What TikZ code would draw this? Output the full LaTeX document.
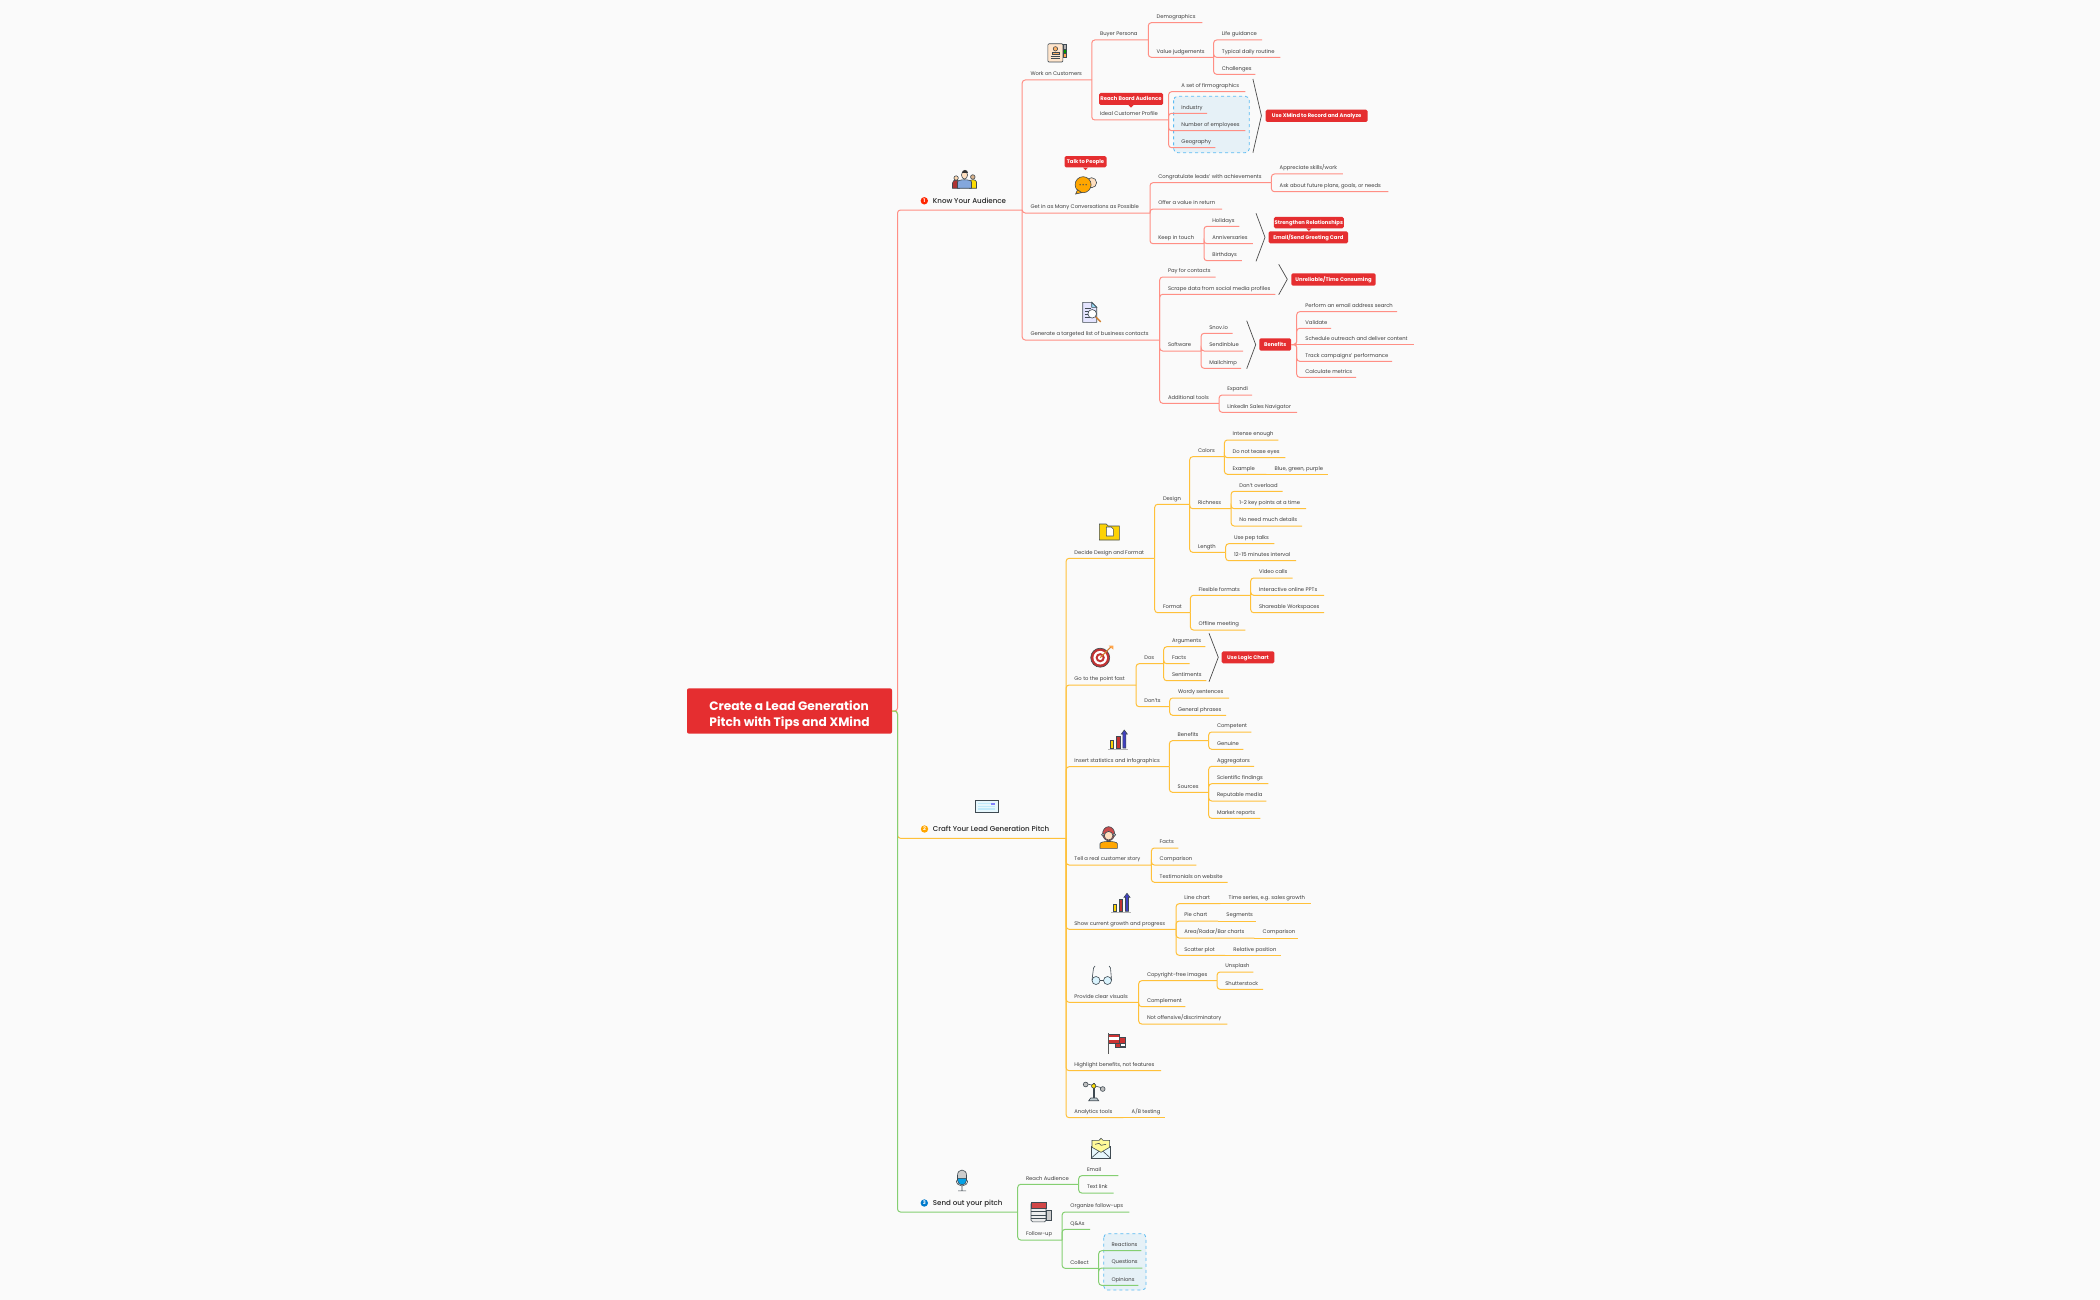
\documentclass[tikz,border=0pt]{standalone}
\usepackage{fontspec}
\setmainfont{Poppins}
\newfontface\medf{Poppins Medium}
\definecolor{bgc}{HTML}{FAFAFA}
\definecolor{rl}{HTML}{FF8F85}
\definecolor{ol}{HTML}{FFC13A}
\definecolor{gl}{HTML}{85CF72}
\definecolor{tagred}{HTML}{E52E30}
\definecolor{txt}{HTML}{3C3C3C}
\definecolor{icl}{HTML}{3F4A52}
\definecolor{bbox}{HTML}{E6F1F7}
\definecolor{bdash}{HTML}{5BBBF2}
\tikzset{
  tpc/.style={anchor=south west, inner sep=0pt, minimum height=10.4pt, text height=4pt, text depth=1.3pt, text=txt, font=\fontsize{5.25}{6.5}\selectfont},
  tpm/.style={anchor=south west, inner sep=0pt, minimum height=17pt, text height=5pt, text depth=1.5pt, text=black!85, font=\fontsize{7.1}{8}\medf},
  link/.style={line width=1pt, rounded corners=3pt},
  rlink/.style={link, draw=rl},
  olink/.style={link, draw=ol},
  glink/.style={link, draw=gl},
  tagbox/.style={fill=tagred, rounded corners=1.5pt, inner sep=0pt, text height=3.7pt, text depth=0pt, text=white, font=\fontsize{5.25}{6}\selectfont\bfseries},
  bkt/.style={draw=black!70, line width=.7pt, line join=round},
  zone/.style={fill=bbox, draw=bdash, dashed, line width=.8pt, rounded corners=4pt},
  numdot/.style={circle, inner sep=0pt, minimum size=7.4pt, text=white, font=\fontsize{5}{5}\selectfont\bfseries},
  ico/.style={line width=.6pt, draw=icl}
}
% name, start of underline, end of underline, y of underline, text
\newcommand{\tp}[5]{\pgfmathsetmacro{\tpw}{#3-#2}\node[tpc] (#1) at (#2,#4) {\makebox[\tpw pt][l]{\hspace{8.5pt}#5}};}
\newcommand{\tpz}[5]{\pgfmathsetmacro{\tpw}{#3-#2}\node[tpc] (#1) at (#2,#4) {\makebox[\tpw pt][l]{\hspace{13pt}#5}};}
\newcommand{\tpb}[5]{\pgfmathsetmacro{\tpw}{#3-#2}\node[tpm] (#1) at (#2,#4) {\makebox[\tpw pt][l]{\hspace{35.2pt}#5}};}
\newcommand{\ptr}[1]{\fill[tagred] ([xshift=-2.5pt]#1.south) -- ([xshift=2.5pt]#1.south) -- ([yshift=-2.5pt]#1.south) -- cycle;}
\begin{document}
\begin{tikzpicture}[x=1pt, y=-1pt]
   \fill[bgc] (0,0) rectangle (2100,1300);
   % dashed zones
   \draw[zone] (1173.6,96.3) rectangle (1249.3,152.7);
   \draw[zone] (1103.7,1233.7) rectangle (1146,1290);

   \node[fill=tagred, rounded corners=2pt, minimum width=205pt, minimum height=45.4pt, inner sep=0pt, align=left, text=white, font=\fontsize{12.2}{16.6}\selectfont\bfseries] (root) at (789.5,711) {\rule{0pt}{18pt}Create a Lead Generation\\Pitch with Tips and XMind};

   % first branch
   \tpb{know}{897.5}{1021.8}{210}{Know Your Audience}
   \draw[rlink] (root.east) -| (know.south west) -- (know.south east);
   \node[numdot, fill=red!70!orange] (n1) at (924.3,200.8) {1};
   \tp{work}{1021.8}{1091.4}{80}{Work on Customers}  \draw[rlink] (know.south east) |- (work.south east);
   \tp{buyer}{1091.4}{1147.9}{40}{Buyer Persona}  \draw[rlink] (work.south east) |- (buyer.south east);
   \tp{demo}{1147.9}{1202}{22.7}{Demographics}  \draw[rlink] (buyer.south east) |- (demo.south east);
   \tp{value}{1147.9}{1213.2}{57.3}{Value judgements}  \draw[rlink] (buyer.south east) |- (value.south east);
   \tp{life}{1213.2}{1261.8}{40}{Life guidance}  \draw[rlink] (value.south east) |- (life.south east);
   \tp{daily}{1213.2}{1280}{57.3}{Typical daily routine}  \draw[rlink] (value.south east) |- (daily.south east);
   \tp{chal}{1213.2}{1255}{74.3}{Challenges}  \draw[rlink] (value.south east) |- (chal.south east);
   \tp{ideal}{1091.4}{1168.2}{120}{Ideal Customer Profile}  \draw[rlink] (work.south east) |- (ideal.south east);
   \tpz{firmo}{1168.2}{1245}{91.7}{A set of firmographics}  \draw[rlink] (ideal.south east) |- (firmo.south east);
   \tpz{indus}{1168.2}{1206.8}{113.3}{Industry}  \draw[rlink] (ideal.south east) |- (indus.south east);
   \tpz{emplo}{1168.2}{1245}{130.7}{Number of employees}  \draw[rlink] (ideal.south east) |- (emplo.south east);
   \tpz{geog}{1168.2}{1215}{147.7}{Geography}  \draw[rlink] (ideal.south east) |- (geog.south east);
   \node[tagbox, minimum width=64pt, minimum height=12pt] (reach) at (1131,99) {Reach Board Audience};
   \ptr{reach}
   \coordinate (b1a) at (1252.9,79);  \coordinate (b1b) at (1261.4,115.7);  \coordinate (b1c) at (1252.9,152.7);
   \draw[bkt] (b1a) -- (b1b) -- (b1c);
   \node[tagbox, minimum width=102pt, minimum height=12.3pt] (xmind) at (1316.6,115.8) {Use XMind to Record and Analyze};

   \tp{conv}{1021.8}{1149.6}{213}{Get in as Many Conversations as Possible}  \draw[rlink] (know.south east) |- (conv.south east);
   \node[tagbox, minimum width=42pt, minimum height=11.3pt] (talk) at (1085.5,161.7) {Talk to People};
   \ptr{talk}
   \tp{congr}{1149.6}{1271}{182.7}{Congratulate leads' with achievements}  \draw[rlink] (conv.south east) |- (congr.south east);
   \tp{appr}{1271}{1342.5}{174}{Appreciate skills/work}  \draw[rlink] (congr.south east) |- (appr.south east);
   \tp{ask}{1271}{1387.9}{191.7}{Ask about future plans, goals, or needs}  \draw[rlink] (congr.south east) |- (ask.south east);
   \tp{offer}{1149.6}{1221.8}{209}{Offer a value in return}  \draw[rlink] (conv.south east) |- (offer.south east);
   \tp{keep}{1149.6}{1203.6}{243.7}{Keep in touch}  \draw[rlink] (conv.south east) |- (keep.south east);
   \tp{holi}{1203.6}{1239}{226.3}{Holidays}  \draw[rlink] (keep.south east) |- (holi.south east);
   \tp{anni}{1203.6}{1252.5}{243.7}{Anniversaries}  \draw[rlink] (keep.south east) |- (anni.south east);
   \tp{birth}{1203.6}{1241.4}{260.7}{Birthdays}  \draw[rlink] (keep.south east) |- (birth.south east);
   \coordinate (b2a) at (1256,213.3);  \coordinate (b2b) at (1265,237.3);  \coordinate (b2c) at (1256,261.3);
   \draw[bkt] (b2a) -- (b2b) -- (b2c);
   \node[tagbox, minimum width=70pt, minimum height=11.3pt] (stren) at (1308.8,222.6) {Strengthen Relationships};
   \ptr{stren}
   \node[tagbox, minimum width=79.4pt, minimum height=12pt] (greet) at (1308.3,237.3) {Email/Send Greeting Card};

   \tp{gen}{1021.8}{1159.3}{340}{Generate a targeted list of business contacts}  \draw[rlink] (know.south east) |- (gen.south east);
   \tp{pay}{1159.3}{1215.3}{277}{Pay for contacts}  \draw[rlink] (gen.south east) |- (pay.south east);
   \tp{scrape}{1159.3}{1275}{294.3}{Scrape data from social media profiles}  \draw[rlink] (gen.south east) |- (scrape.south east);
   \coordinate (b3a) at (1278.7,264.3);  \coordinate (b3b) at (1287.3,279.3);  \coordinate (b3c) at (1278.7,294.7);
   \draw[bkt] (b3a) -- (b3b) -- (b3c);
   \node[tagbox, minimum width=84.4pt, minimum height=12.4pt] (unrel) at (1333.5,279.5) {Unreliable/Time Consuming};
   \tp{soft}{1159.3}{1200.7}{351}{Software}  \draw[rlink] (gen.south east) |- (soft.south east);
   \tp{snov}{1200.7}{1232.3}{333.3}{Snov.io}  \draw[rlink] (soft.south east) |- (snov.south east);
   \tp{sendin}{1200.7}{1242.7}{351}{Sendinblue}  \draw[rlink] (soft.south east) |- (sendin.south east);
   \tp{mail}{1200.7}{1240.7}{368.3}{Mailchimp}  \draw[rlink] (soft.south east) |- (mail.south east);
   \coordinate (b4a) at (1246.7,320.7);  \coordinate (b4b) at (1255.7,344.7);  \coordinate (b4c) at (1246.7,368.7);
   \draw[bkt] (b4a) -- (b4b) -- (b4c);
   \node[tagbox, minimum width=31.7pt, minimum height=12.4pt] (benef) at (1275.2,344.5) {Benefits};
   \tp{perf}{1296.7}{1396.7}{311.7}{Perform an email address search}  \draw[rlink] (benef.east) -| (perf.south west) -- (perf.south east);
   \tp{valid}{1296.7}{1330.7}{328.3}{Validate}  \draw[rlink] (benef.east) -| (valid.south west) -- (valid.south east);
   \tp{sched}{1296.7}{1413.3}{344.5}{Schedule outreach and deliver content}  \draw[rlink] (benef.east) -- (sched.south east);
   \tp{track}{1296.7}{1391.7}{361.3}{Track campaigns' performance}  \draw[rlink] (benef.east) -| (track.south west) -- (track.south east);
   \tp{calc}{1296.7}{1355.7}{377.3}{Calculate metrics}  \draw[rlink] (benef.east) -| (calc.south west) -- (calc.south east);
   \tp{addi}{1159.3}{1218.7}{403.3}{Additional tools}  \draw[rlink] (gen.south east) |- (addi.south east);
   \tp{expa}{1218.7}{1251.7}{395}{Expandi}  \draw[rlink] (addi.south east) |- (expa.south east);
   \tp{linke}{1218.7}{1296.7}{412.3}{LinkedIn Sales Navigator}  \draw[rlink] (addi.south east) |- (linke.south east);

   % second branch
   \tpb{craft}{897.5}{1065.7}{838.3}{Craft Your Lead Generation Pitch}
   \draw[olink] (root.east) -| (craft.south west) -- (craft.south east);
   \node[numdot, fill=orange!70!yellow] (n2) at (924.5,829) {2};
   \tp{decide}{1065.7}{1154.3}{558.3}{Decide Design and Format}  \draw[olink] (craft.south east) |- (decide.south east);
   \tp{design}{1154.3}{1189.3}{504.3}{Design}  \draw[olink] (decide.south east) |- (design.south east);
   \tp{colors}{1189.3}{1224}{456.7}{Colors}  \draw[olink] (design.south east) |- (colors.south east);
   \tp{inten}{1224}{1278}{440}{Intense enough}  \draw[olink] (colors.south east) |- (inten.south east);
   \tp{tease}{1224}{1285}{457.7}{Do not tease eyes}  \draw[olink] (colors.south east) |- (tease.south east);
   \tp{examp}{1224}{1266}{474.3}{Example}  \draw[olink] (colors.south east) |- (examp.south east);
   \tp{bgp}{1266}{1327.7}{474.3}{Blue, green, purple}  \draw[olink] (examp.south east) -- (bgp.south east);
   \tp{rich}{1189.3}{1230.7}{508.7}{Richness}  \draw[olink] (design.south east) |- (rich.south east);
   \tp{dont}{1230.7}{1282.3}{491.3}{Don't overload}  \draw[olink] (rich.south east) |- (dont.south east);
   \tp{keyp}{1230.7}{1305.7}{508.7}{1-2 key points at a time}  \draw[olink] (rich.south east) |- (keyp.south east);
   \tp{nonee}{1230.7}{1301.7}{526}{No need much details}  \draw[olink] (rich.south east) |- (nonee.south east);
   \tp{leng}{1189.3}{1225.3}{552.3}{Length}  \draw[olink] (design.south east) |- (leng.south east);
   \tp{pep}{1225.3}{1274}{543.7}{Use pep talks}  \draw[olink] (leng.south east) |- (pep.south east);
   \tp{twelve}{1225.3}{1295.7}{560.7}{12-15 minutes interval}  \draw[olink] (leng.south east) |- (twelve.south east);
   \tp{format}{1154.3}{1190}{612.7}{Format}  \draw[olink] (decide.south east) |- (format.south east);
   \tp{flex}{1190}{1250.3}{595.3}{Flexible formats}  \draw[olink] (format.south east) |- (flex.south east);
   \tp{video}{1250.3}{1292.3}{578}{Video calls}  \draw[olink] (flex.south east) |- (video.south east);
   \tp{inter}{1250.3}{1323.7}{595.3}{Interactive online PPTs}  \draw[olink] (flex.south east) |- (inter.south east);
   \tp{share}{1250.3}{1323.7}{612.7}{Shareable Workspaces}  \draw[olink] (flex.south east) |- (share.south east);
   \tp{offl}{1190}{1245}{630}{Offline meeting}  \draw[olink] (format.south east) |- (offl.south east);

   \tp{goto}{1065.7}{1135.7}{685}{Go to the point fast}  \draw[olink] (craft.south east) |- (goto.south east);
   \tp{dos}{1135.7}{1163.3}{663.7}{Dos}  \draw[olink] (goto.south east) |- (dos.south east);
   \tp{argu}{1163.3}{1205}{646.7}{Arguments}  \draw[olink] (dos.south east) |- (argu.south east);
   \tp{facta}{1163.3}{1189.3}{663.7}{Facts}  \draw[olink] (dos.south east) |- (facta.south east);
   \tp{senti}{1163.3}{1206}{680.7}{Sentiments}  \draw[olink] (dos.south east) |- (senti.south east);
   \coordinate (b5a) at (1209,633.3);  \coordinate (b5b) at (1218.3,657.3);  \coordinate (b5c) at (1209,681.7);
   \draw[bkt] (b5a) -- (b5b) -- (b5c);
   \node[tagbox, minimum width=52.6pt, minimum height=12pt] (logic) at (1248,657.3) {Use Logic Chart};
   \tp{donts}{1135.7}{1169.3}{706.7}{Don'ts}  \draw[olink] (goto.south east) |- (donts.south east);
   \tp{wordy}{1169.3}{1228.7}{698}{Wordy sentences}  \draw[olink] (donts.south east) |- (wordy.south east);
   \tp{gene}{1169.3}{1225.7}{715.3}{General phrases}  \draw[olink] (donts.south east) |- (gene.south east);

   \tp{stat}{1065.7}{1169}{766.7}{Insert statistics and infographics}  \draw[olink] (craft.south east) |- (stat.south east);
   \tp{bene}{1169}{1208.3}{740.7}{Benefits}  \draw[olink] (stat.south east) |- (bene.south east);
   \tp{compe}{1208.3}{1251}{732}{Competent}  \draw[olink] (bene.south east) |- (compe.south east);
   \tp{genu}{1208.3}{1243}{749.3}{Genuine}  \draw[olink] (bene.south east) |- (genu.south east);
   \tp{sour}{1169}{1208.3}{792.3}{Sources}  \draw[olink] (stat.south east) |- (sour.south east);
   \tp{aggr}{1208.3}{1253.7}{766.3}{Aggregators}  \draw[olink] (sour.south east) |- (aggr.south east);
   \tp{scie}{1208.3}{1268}{783.7}{Scientific findings}  \draw[olink] (sour.south east) |- (scie.south east);
   \tp{repu}{1208.3}{1266}{801}{Reputable media}  \draw[olink] (sour.south east) |- (repu.south east);
   \tp{mark}{1208.3}{1260}{818.3}{Market reports}  \draw[olink] (sour.south east) |- (mark.south east);

   \tp{tell}{1065.7}{1151}{865}{Tell a real customer story}  \draw[olink] (craft.south east) |- (tell.south east);
   \tp{factb}{1151}{1178}{848}{Facts}  \draw[olink] (tell.south east) |- (factb.south east);
   \tp{compa}{1151}{1196}{865}{Comparison}  \draw[olink] (tell.south east) |- (compa.south east);
   \tp{testi}{1151}{1227.3}{882.3}{Testimonials on website}  \draw[olink] (tell.south east) |- (testi.south east);

   \tp{show}{1065.7}{1175.7}{929.3}{Show current growth and progress}  \draw[olink] (craft.south east) |- (show.south east);
   \tp{linec}{1175.7}{1220}{903.7}{Line chart}  \draw[olink] (show.south east) |- (linec.south east);
   \tp{times}{1220}{1310.7}{903.7}{Time series, e.g. sales growth}  \draw[olink] (linec.south east) -- (times.south east);
   \tp{piec}{1175.7}{1217.7}{921}{Pie chart}  \draw[olink] (show.south east) |- (piec.south east);
   \tp{segm}{1217.7}{1255.7}{921}{Segments}  \draw[olink] (piec.south east) -- (segm.south east);
   \tp{area}{1175.7}{1254}{938}{Area/Radar/Bar charts}  \draw[olink] (show.south east) |- (area.south east);
   \tp{compb}{1254}{1298}{938}{Comparison}  \draw[olink] (area.south east) -- (compb.south east);
   \tp{scat}{1175.7}{1224.7}{955.3}{Scatter plot}  \draw[olink] (show.south east) |- (scat.south east);
   \tp{relp}{1224.7}{1280.7}{955.3}{Relative position}  \draw[olink] (scat.south east) -- (relp.south east);

   \tp{prov}{1065.7}{1138.3}{1002.3}{Provide clear visuals}  \draw[olink] (craft.south east) |- (prov.south east);
   \tp{copy}{1138.3}{1216.7}{980.7}{Copyright-free images}  \draw[olink] (prov.south east) |- (copy.south east);
   \tp{unsp}{1216.7}{1253}{972}{Unsplash}  \draw[olink] (copy.south east) |- (unsp.south east);
   \tp{shut}{1216.7}{1262.7}{989.3}{Shutterstock}  \draw[olink] (copy.south east) |- (shut.south east);
   \tp{comple}{1138.3}{1185}{1006.7}{Complement}  \draw[olink] (prov.south east) |- (comple.south east);
   \tp{notof}{1138.3}{1227}{1024}{Not offensive/discriminatory}  \draw[olink] (prov.south east) |- (notof.south east);

   \tp{high}{1065.7}{1160.7}{1070.7}{Highlight benefits, not features}  \draw[olink] (craft.south east) |- (high.south east);
   \tp{anal}{1065.7}{1123}{1117.7}{Analytics tools}  \draw[olink] (craft.south east) |- (anal.south east);
   \tp{abte}{1123}{1165}{1117.7}{A/B testing}  \draw[olink] (anal.south east) -- (abte.south east);

   % third branch
   \tpb{send}{897.5}{1017.3}{1212}{Send out your pitch}
   \draw[glink] (root.east) -| (send.south west) -- (send.south east);
   \node[numdot, fill=blue!40!cyan!80!black] (n3) at (924.3,1203) {3};
   \tp{raud}{1017.3}{1078.3}{1184.3}{Reach Audience}  \draw[glink] (send.south east) |- (raud.south east);
   \tp{email}{1078.3}{1118}{1175.7}{Email}  \draw[glink] (raud.south east) |- (email.south east);
   \tp{texl}{1078.3}{1113.3}{1193}{Text link}  \draw[glink] (raud.south east) |- (texl.south east);
   \tp{foll}{1017.3}{1061.7}{1240}{Follow-up}  \draw[glink] (send.south east) |- (foll.south east);
   \tp{orga}{1061.7}{1129}{1212}{Organize follow-ups}  \draw[glink] (foll.south east) |- (orga.south east);
   \tp{qas}{1061.7}{1089.7}{1229.3}{Q\&As}  \draw[glink] (foll.south east) |- (qas.south east);
   \tp{coll}{1061.7}{1098.3}{1268.3}{Collect}  \draw[glink] (foll.south east) |- (coll.south east);
   \tpz{reac}{1098.3}{1141}{1250.7}{Reactions}  \draw[glink] (coll.south east) |- (reac.south east);
   \tpz{ques}{1098.3}{1142}{1268}{Questions}  \draw[glink] (coll.south east) |- (ques.south east);
   \tpz{opin}{1098.3}{1138}{1285.3}{Opinions}  \draw[glink] (coll.south east) |- (opin.south east);

   % icons
   \begin{scope}[shift={(952.5,170)}]   % audience
   \filldraw[ico, fill=red!60!black!80] (0,18.3) -- (0,13) .. controls (0,9) and (7,9) .. (7,13) -- (7,18.3) -- cycle;
   \filldraw[ico, fill=orange!30] (3.6,8) circle (2.2);
   \filldraw[ico, fill=yellow!80!orange] (17,18.3) -- (17,12) .. controls (17,9) and (24,9) .. (24,12) -- (24,18.3) -- cycle;
   \filldraw[ico, fill=brown!60] (20.3,7) circle (2.3);
   \filldraw[ico, fill=cyan!50!blue!50] (5,18.3) -- (5,12) .. controls (5,9) and (19,9) .. (19,12) -- (19,18.3) -- cycle;
   \filldraw[ico, fill=orange!25] (12,5) ellipse (3 and 4);
   \fill[black!80] (9,3.5) .. controls (9,-1) and (15,-1) .. (15,3.5) -- cycle;
   \end{scope}
   \begin{scope}[shift={(1047.9,43.3)}]   % profile card
   \filldraw[ico, fill=orange!20, rounded corners=1pt] (0,0.5) rectangle (15,18.7);
   \filldraw[ico, fill=orange!60] (4,9) rectangle (11,11.5);
   \filldraw[ico, fill=orange!60] (7.5,5.5) circle (2.2);
   \draw[ico] (3,13.5) -- (12,13.5) (3,15.5) -- (12,15.5);
   \filldraw[ico, fill=gray!60] (15,1) rectangle (18.6,6);
   \filldraw[ico, fill=green!60!black] (15,6) rectangle (18.6,10);
   \filldraw[ico, fill=orange!70] (15,10) rectangle (18.6,14);
   \end{scope}
   \begin{scope}[shift={(1074.6,176.7)}]   % chat bubbles
   \filldraw[ico, fill=orange!25] (17,6) circle (5);
   \filldraw[ico, fill=orange!70!yellow] (8.5,8) circle (8);
   \filldraw[ico, fill=orange!70!yellow] (3,13) -- (1,17.3) -- (7,16) -- cycle;
   \fill[icl] (5.5,8) circle (.7) (8.5,8) circle (.7) (11.5,8) circle (.7);
   \end{scope}
   \begin{scope}[shift={(1082.7,302.3)}]   % list with lens
   \filldraw[ico, fill=blue!10] (0,0) -- (9,0) -- (14,5) -- (14,20) -- (0,20) -- cycle;
   \filldraw[ico, fill=cyan!40] (9,0) -- (14,5) -- (9,5) -- cycle;
   \draw[ico] (2,6) -- (8,6) (2,9) -- (6,9) (2,12) -- (6,12) (2,15) -- (7,15);
   \draw[line width=1.4pt, draw=brown!70!orange] (13,14.5) -- (18,19.5);
   \filldraw[ico, fill=white] (9.5,11.5) circle (4.3);
   \end{scope}
   \begin{scope}[shift={(1099.3,522)}]   % folder
   \filldraw[ico, fill=yellow!70!orange] (0,2) -- (7,2) -- (9,4) -- (20,4) -- (20,18) -- (0,18) -- cycle;
   \filldraw[ico, fill=white] (7,5) -- (12,5) -- (14,7) -- (14,14) -- (7,14) -- cycle;
   \end{scope}
   \begin{scope}[shift={(1090.7,645.7)}]   % target
   \filldraw[ico, fill=red!70!black!80] (9.5,12) circle (9.5);
   \fill[white] (9.5,12) circle (6.8);
   \fill[red!70!black!80] (9.5,12) circle (4.6);
   \fill[white] (9.5,12) circle (2.3);
   \draw[line width=1pt, draw=brown!70!orange] (9.5,12) -- (20,1.5);
   \fill[orange!70] (18,0) -- (22.6,0) -- (22.6,4) -- cycle;
   \end{scope}
   \begin{scope}[shift={(1108.3,730)}]   % rising bars
   \filldraw[ico, fill=yellow!70!orange] (2,10.5) rectangle (5,18);
   \filldraw[ico, fill=red!70!black!80] (8,6) rectangle (11.5,18);
   \filldraw[ico, fill=blue!50!gray] (14.5,4) -- (13,4) -- (16,0) -- (19,4) -- (17.5,4) -- (17.5,18) -- (14.5,18) -- cycle;
   \draw[line width=1pt, draw=gray!60] (0,19) -- (20,19);
   \end{scope}
   \begin{scope}[shift={(1111,893.3)}]   % rising bars
   \filldraw[ico, fill=yellow!70!orange] (2,10.5) rectangle (5,18);
   \filldraw[ico, fill=red!70!black!80] (8,6) rectangle (11.5,18);
   \filldraw[ico, fill=blue!50!gray] (14.5,4) -- (13,4) -- (16,0) -- (19,4) -- (17.5,4) -- (17.5,18) -- (14.5,18) -- cycle;
   \draw[line width=1pt, draw=gray!60] (0,19) -- (20,19);
   \end{scope}
   \begin{scope}[shift={(975,800)}]   % keyboard
   \filldraw[ico, fill=cyan!10] (0,0) rectangle (23,12.5);
   \draw[line width=1.2pt, draw=cyan!25] (3,3.5) -- (20,3.5) (3,6.3) -- (20,6.3) (3,9) -- (20,9);
   \fill[blue!50!white] (16,2.6) rectangle (20,4.5);
   \end{scope}
   \begin{scope}[shift={(1100,826.7)}]   % headset woman
   \filldraw[ico, fill=orange!70!yellow] (0,21.6) -- (0,17) .. controls (0,14) and (17.3,14) .. (17.3,17) -- (17.3,21.6) -- cycle;
   \filldraw[ico, fill=red!70!black!70] (8.6,7) ellipse (6 and 7);
   \filldraw[ico, fill=orange!25] (8.6,9) circle (4.3);
   \filldraw[ico, fill=gray!50] (3,8) circle (1.5) (14.2,8) circle (1.5);
   \end{scope}
   \begin{scope}[shift={(1090,965)}]   % glasses
   \filldraw[ico, fill=cyan!15] (6,15.5) circle (4);
   \filldraw[ico, fill=cyan!15] (17.5,15.5) circle (4);
   \draw[ico] (10,15.5) -- (13.5,15.5) (2,15) -- (3.5,3) -- (5,1) (21.5,15) -- (20.5,3) -- (19,1);
   \end{scope}
   \begin{scope}[shift={(1106.7,1033.3)}]   % flag
   \filldraw[ico, fill=red!60!gray] (9,4) rectangle (19,14);
   \filldraw[ico, fill=white] (14,10) rectangle (19,13);
   \filldraw[ico, fill=red!60!gray] (2,1) rectangle (13,10);
   \fill[white] (2.4,4) rectangle (12.6,7);
   \draw[line width=1.4pt, draw=gray!70!black] (1.5,0) -- (1.5,21);
   \end{scope}
   \begin{scope}[shift={(1082.7,1081)}]   % scales
   \draw[ico] (3,2.5) -- (20,7);
   \filldraw[ico, fill=gray!50] (3,3.5) circle (2.4) (20,8) circle (2.4);
   \filldraw[ico, fill=white] (10.2,2) rectangle (12,17);
   \filldraw[ico, fill=yellow!80!orange] (11,5) circle (2.2);
   \filldraw[ico, fill=cyan!20!gray!50] (6,19.7) -- (8,17) -- (14,17) -- (16,19.7) -- cycle;
   \end{scope}
   \begin{scope}[shift={(955,1169.3)}]   % microphone
   \draw[ico] (1.3,11) .. controls (1.3,18.5) and (12.7,18.5) .. (12.7,11) (7,17) -- (7,21) (3,21.5) -- (11,21.5);
   \filldraw[ico, fill=gray!40] (2.5,6) .. controls (2.5,-1) and (11.5,-1) .. (11.5,6) -- (11.5,9) -- (2.5,9) -- cycle;
   \filldraw[ico, fill=cyan!90!blue] (2.5,9) -- (11.5,9) -- (11.5,11) .. controls (11.5,17) and (2.5,17) .. (2.5,11) -- cycle;
   \end{scope}
   \begin{scope}[shift={(1091,1138.3)}]   % envelope
   \filldraw[ico, fill=cyan!10] (0,8) rectangle (19.7,20);
   \filldraw[ico, fill=yellow!40] (1,2) -- (8,2) -- (10,0) -- (12,2) -- (18.6,2) -- (18.6,9) -- (10,14) -- (1,9) -- cycle;
   \draw[ico] (4,6) -- (8,5) -- (10,7) -- (15,6);
   \draw[ico] (0,20) -- (8,13) (19.7,20) -- (12,13);
   \end{scope}
   \begin{scope}[shift={(1031,1202.3)}]   % notebook
   \filldraw[ico, fill=gray!15, rounded corners=1.5pt] (0,0) rectangle (15,19.5);
   \filldraw[ico, fill=red!60!gray!90] (0,0) rectangle (15,5.5);
   \draw[ico] (0,9) -- (15,9) (0,12.5) -- (15,12.5) (0,16) -- (15,16);
   \filldraw[ico, fill=gray!40] (15,8) rectangle (20,18);
   \end{scope}
\end{tikzpicture}
\end{document}
